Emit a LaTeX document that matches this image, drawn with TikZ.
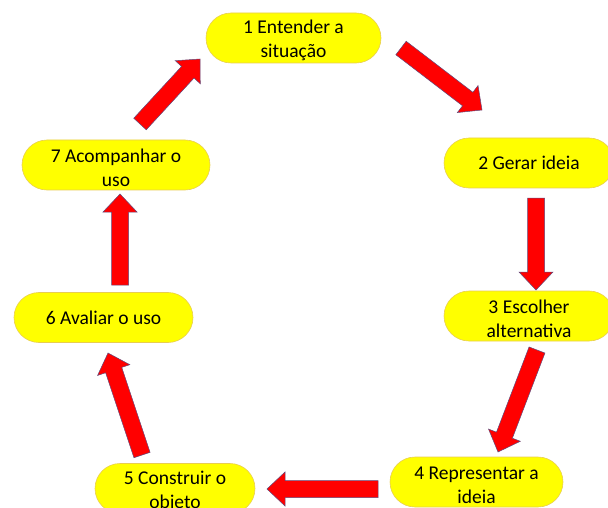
\documentclass[tikz,border=0pt]{standalone}
\usepackage{fontspec}
\setmainfont{Carlito}
\usepackage{tikz}
\usetikzlibrary{calc, shapes.misc}
\definecolor{stagefill}{RGB}{255,255,0}
\definecolor{stageline}{RGB}{232,205,80}
\definecolor{arrowfill}{RGB}{255,0,0}
\definecolor{arrowline}{RGB}{95,75,125}
\newcommand{\blockarrow}[2]{%
\coordinate (arrowbase) at ($(#2)!18pt!(#1)$);
\filldraw[bigarrow] ($(#1)!8.5pt!90:(#2)$) -- ($(arrowbase)!8.5pt!-90:(#1)$) -- ($(arrowbase)!17pt!-90:(#1)$) -- (#2) -- ($(arrowbase)!17pt!90:(#1)$) -- ($(arrowbase)!8.5pt!90:(#1)$) -- ($(#1)!8.5pt!-90:(#2)$) -- cycle;
}
\newcommand{\lineup}{\rule{0pt}{19pt}}
\begin{document}
\begin{tikzpicture}[x=1pt, y=-1pt,
stage/.style={rounded rectangle, fill=stagefill, draw=stageline, line width=0.6pt, minimum height=50pt, inner xsep=2pt, inner ysep=0pt, align=center, font=\fontsize{19.5}{24}\selectfont},
bigarrow/.style={fill=arrowfill, draw=arrowline, line width=0.5pt, line join=miter}]
\clip (0,0) rectangle (608,508);
\node[stage, minimum width=179pt] (n1) at (293.5,38) {\lineup 1 Entender a\\situação};
\node[stage, minimum width=174pt] (n2) at (529,163) {2 Gerar ideia};
\node[stage, minimum width=174pt] (n3) at (529,316) {\lineup 3 Escolher\\alternativa};
\node[stage, minimum width=177pt] (n4) at (476.5,482) {\lineup 4 Representar a\\ideia};
\node[stage, minimum width=164pt] (n5) at (175,488.5) {\lineup 5 Construir o\\objeto};
\node[stage, minimum width=183pt] (n6) at (103.5,317.5) {6 Avaliar o uso};
\node[stage, minimum width=192pt] (n7) at (116,165) {\lineup 7 Acompanhar o\\uso};
\foreach \pname/\px/\py in {
t12/401/48, p12/482/110,
t23/536/198, p23/536/290,
t34/537/350, p34/498/452,
t45/378/489, p45/267/489,
t56/142/455, p56/108/353,
t67/120/285, p67/120/194,
t71/140/124, p71/200/59
}{
\coordinate (\pname) at (\px,\py);
}
\foreach \a/\b in {t12/p12, t23/p23, t34/p34, t45/p45, t56/p56, t67/p67, t71/p71}{
\blockarrow{\a}{\b}
}
\end{tikzpicture}
\end{document}
